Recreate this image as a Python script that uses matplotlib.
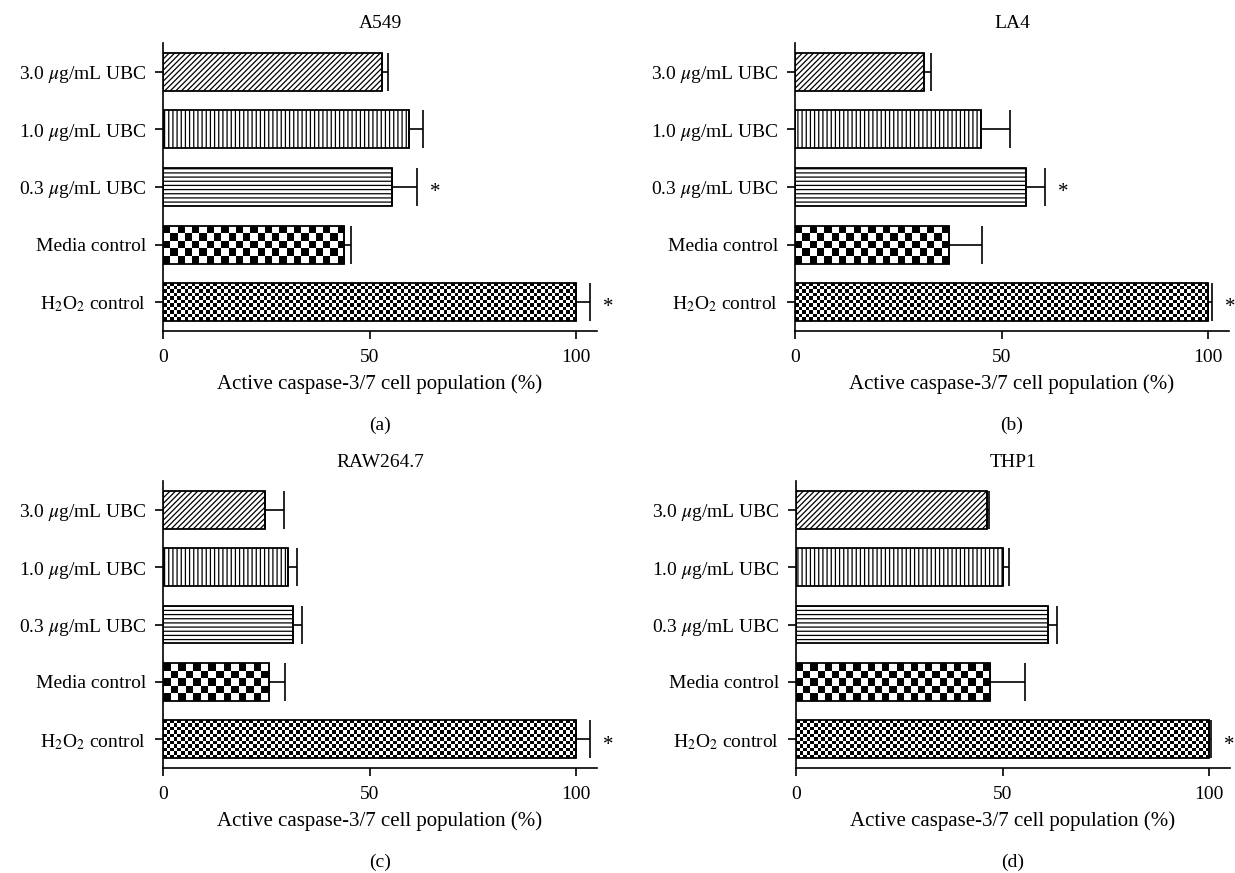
import numpy as np
import matplotlib
matplotlib.use("Agg")
import matplotlib.pyplot as plt

plt.rcParams['font.family'] = ['Liberation Serif', 'DejaVu Serif']
plt.rcParams['mathtext.fontset'] = 'stix'
plt.rcParams['hatch.linewidth'] = 0.9

#categories from bottom to top
categories = ["H$_2$O$_2$ control", "Media control", "0.3 $\\mu$g/mL UBC",
              "1.0 $\\mu$g/mL UBC", "3.0 $\\mu$g/mL UBC"]
x_ticks = [0, 50, 100]

#panel data (values in %, positive error only)
titles = ["A549", "LA4", "RAW264.7", "THP1"]
letters = ["(a)", "(b)", "(c)", "(d)"]

a549_vals = [100, 43.9, 55.4, 59.6, 53.0]
a549_errs = [3.3, 1.5, 6.1, 3.2, 1.5]
a549_stars = [True, False, True, False, False]

la4_vals = [100, 37.2, 55.9, 44.9, 31.3]
la4_errs = [0.8, 8.1, 4.7, 7.1, 1.7]
la4_stars = [True, False, True, False, False]

raw_vals = [100, 25.6, 31.5, 30.3, 24.7]
raw_errs = [3.4, 4.0, 2.2, 2.0, 4.6]
raw_stars = [True, False, False, False, False]

thp1_vals = [100, 46.9, 61.0, 50.2, 46.2]
thp1_errs = [0.5, 8.4, 2.1, 1.3, 0.5]
thp1_stars = [True, False, False, False, False]

panel_vals = [a549_vals, la4_vals, raw_vals, thp1_vals]
panel_errs = [a549_errs, la4_errs, raw_errs, thp1_errs]
panel_stars = [a549_stars, la4_stars, raw_stars, thp1_stars]

#fill style per category: checker cell size in px, or a hatch
styles = [("checker", 3.6), ("checker", 7.3), ("hatch", "----"),
          ("hatch", "||||"), ("hatch", "//////")]

W, H = 1235, 873
fig = plt.figure(figsize=(W / 100, H / 100), dpi=100)

#axes boxes in pixels: left, top, right, bottom
boxes = [(163, 43, 597, 331), (795, 43, 1229, 331),
         (163, 481, 597, 768), (796, 481, 1230, 768)]


def checker(ax, bar, cell_px):
    x0, y0 = ax.transData.transform((bar.get_x(), bar.get_y()))
    x1, y1 = ax.transData.transform((bar.get_x() + bar.get_width(),
                                     bar.get_y() + bar.get_height()))
    nx = max(1, int(round(abs(x1 - x0) / cell_px)))
    ny = max(1, int(round(abs(y1 - y0) / cell_px)))
    board = np.indices((ny, nx)).sum(axis=0) % 2
    im = ax.imshow(board, cmap="gray", interpolation="nearest", aspect="auto",
                   extent=(bar.get_x(), bar.get_x() + bar.get_width(),
                           bar.get_y(), bar.get_y() + bar.get_height()),
                   zorder=1)
    im.set_clip_path(bar)


for i in range(4):
    l, t, r, b = boxes[i]
    ax = fig.add_axes([l / W, 1 - b / H, (r - l) / W, (b - t) / H])
    xlim = (0, 105)
    ylim = (-0.5, 4.5)
    ax.set_xlim(xlim)
    ax.set_ylim(ylim)
    ypos = np.arange(len(categories))
    vals = panel_vals[i]
    errs = panel_errs[i]

    for j in range(len(categories)):
        kind, arg = styles[j]
        if kind == "hatch":
            ax.barh(ypos[j], vals[j], height=0.66, facecolor="white",
                    edgecolor="black", linewidth=1.3, hatch=arg, zorder=2)
        else:
            bar = ax.barh(ypos[j], vals[j], height=0.66, facecolor="none",
                          edgecolor="black", linewidth=1.3, zorder=3)[0]
            checker(ax, bar, arg)

    ax.errorbar(vals, ypos, xerr=[[0] * len(vals), errs], fmt="none",
                ecolor="black", elinewidth=1.2, capsize=14, capthick=1.2,
                zorder=4)

    for j in range(len(categories)):
        if panel_stars[i][j]:
            ax.text(vals[j] + errs[j] + 4.4, ypos[j] - 0.1, "*", fontsize=15,
                    ha="center", va="center", clip_on=False)

    ax.set_xlim(xlim)
    ax.set_ylim(ylim)
    ax.set_yticks(ypos)
    ax.set_yticklabels(categories)
    ax.set_xticks(x_ticks)
    for s in ["top", "right"]:
        ax.spines[s].set_visible(False)
    for s in ["left", "bottom"]:
        ax.spines[s].set_linewidth(1.2)
    ax.tick_params(axis="y", length=6, width=1.2, pad=6, labelsize=14)
    ax.tick_params(axis="x", length=6, width=1.2, pad=7, labelsize=14)

    ax.set_xlabel("Active caspase-3/7 cell population (%)", fontsize=15,
                  labelpad=6)
    ax.text(0.5, 1 + 19 / (b - t), titles[i], transform=ax.transAxes,
            ha="center", va="center", fontsize=14)
    ax.text(0.5, -94 / (b - t), letters[i], transform=ax.transAxes,
            ha="center", va="center", fontsize=14)

fig.savefig("out.png", dpi=100)
